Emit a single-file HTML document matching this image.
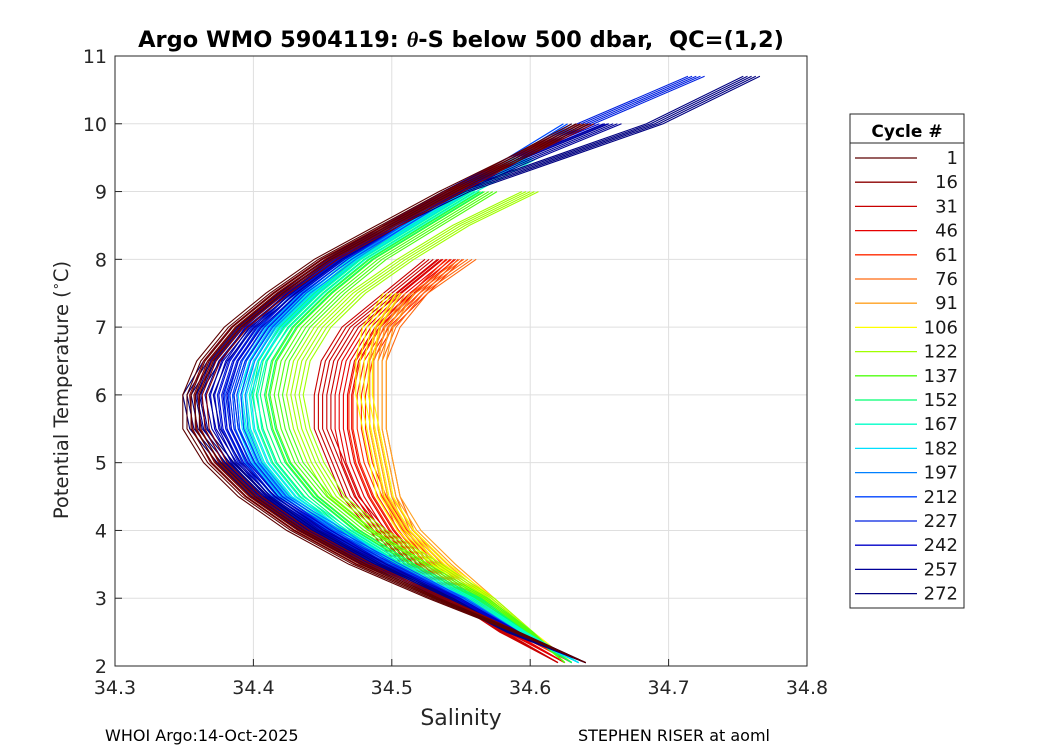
<!DOCTYPE html>
<html><head><meta charset="utf-8"><style>
body{margin:0;background:#fff;width:1050px;height:750px;overflow:hidden;font-family:"Liberation Sans","DejaVu Sans",sans-serif}
</style></head><body>
<svg id="chart" width="1050" height="750" xmlns="http://www.w3.org/2000/svg" font-family="DejaVu Sans, Liberation Sans, sans-serif">
<rect width="1050" height="750" fill="#fff"/>
<text x="461" y="47" text-anchor="middle" font-size="22.5" font-weight="bold" xml:space="preserve">Argo WMO 5904119: <tspan font-style="italic" font-family="Liberation Serif, serif">θ</tspan>-S below 500 dbar,  QC=(1,2)</text>
<g id="grid"></g>
<g id="lines"></g>
<rect x="115" y="56" width="692" height="610" fill="none" stroke="#262626" stroke-width="1"/>
<g id="ticks"></g>
<text x="461" y="725" text-anchor="middle" font-size="22" fill="#262626">Salinity</text>
<text transform="translate(68,390) rotate(-90)" text-anchor="middle" font-size="19.5" fill="#262626">Potential Temperature (<tspan dy="-8" font-size="13">∘</tspan><tspan dy="8">C)</tspan></text>
<text x="105" y="741" font-size="16">WHOI Argo:14-Oct-2025</text>
<text x="578" y="741" font-size="16">STEPHEN RISER at aoml</text>
<g id="legend">
<rect x="850" y="114" width="114" height="494" fill="#fff" stroke="#262626"/>
<line x1="850" y1="143" x2="964" y2="143" stroke="#262626"/>
<text x="907" y="137" text-anchor="middle" font-size="17" font-weight="bold">Cycle #</text>
</g>
</svg>
<script>
const cycles=[1,16,31,46,61,76,91,106,122,137,152,167,182,197,212,227,242,257,272];
const colors=["#5c0000","#8c0000","#c80000","#e60000","#ff2a00","#ff6a10","#ffa020","#ffff00","#a0ff00","#50ff10","#00ff70","#00ffc8","#00e0ff","#0080ff","#0045ff","#0020e0","#0000c8","#000098","#000080"];
const tempGrid=[2.05,2.5,3,3.5,4,4.5,5,5.5,6,6.5,7,7.5,8,8.5,9,9.5,10,10.7];
const n=null;
const sal1=[34.64,34.59,34.53,34.475,34.43,34.395,34.37,34.355,34.355,34.365,34.385,34.415,34.45,34.495,34.54,34.59,34.636,n];
const sal16=[34.64,34.59,34.535,34.48,34.435,34.40,34.375,34.362,34.36,34.37,34.39,34.42,34.455,34.50,34.545,34.59,34.64,n];
const sal31=[34.62,34.58,34.545,34.51,34.49,34.47,34.46,34.45,34.45,34.455,34.47,34.50,34.53,n,n,n,n,n];
const sal46=[34.625,34.585,34.55,34.515,34.495,34.48,34.47,34.465,34.465,34.47,34.485,34.51,34.54,n,n,n,n,n];
const sal61=[34.63,34.59,34.555,34.525,34.505,34.49,34.48,34.475,34.475,34.48,34.495,34.52,34.545,n,n,n,n,n];
const sal76=[34.63,34.595,34.56,34.53,34.51,34.50,34.495,34.49,34.49,34.49,34.50,34.52,34.555,n,n,n,n,n];
const sal91=[34.63,34.60,34.57,34.54,34.515,34.50,34.495,34.49,34.49,34.49,34.495,34.51,n,n,n,n,n,n];
const sal106=[34.63,34.60,34.57,34.535,34.51,34.495,34.49,34.485,34.48,34.48,34.485,34.50,n,n,n,n,n,n];
const sal122=[34.625,34.60,34.57,34.53,34.49,34.46,34.445,34.435,34.43,34.435,34.45,34.475,34.51,34.55,34.60,n,n,n];
const sal137=[34.625,34.60,34.565,34.52,34.48,34.45,34.43,34.42,34.415,34.42,34.435,34.46,34.49,34.53,34.57,n,n,n];
const sal152=[34.63,34.595,34.56,34.51,34.47,34.44,34.42,34.41,34.405,34.41,34.425,34.45,34.48,34.52,34.56,n,n,n];
const sal167=[34.635,34.595,34.555,34.505,34.465,34.43,34.41,34.40,34.397,34.403,34.42,34.445,34.475,34.515,34.555,34.60,n,n];
const sal182=[34.635,34.59,34.55,34.50,34.46,34.425,34.405,34.395,34.392,34.40,34.415,34.44,34.47,34.51,34.55,34.595,n,n];
const sal197=[34.64,34.59,34.55,34.495,34.46,34.42,34.40,34.39,34.388,34.395,34.41,34.435,34.468,34.505,34.545,34.59,34.63,n];
const sal212=[34.64,34.59,34.548,34.50,34.455,34.418,34.398,34.387,34.385,34.392,34.408,34.432,34.465,34.505,34.545,34.59,34.63,n];
const sal227=[34.64,34.59,34.545,34.495,34.45,34.415,34.395,34.383,34.38,34.388,34.405,34.43,34.462,34.50,34.543,34.59,34.64,34.72];
const sal242=[34.64,34.59,34.545,34.49,34.45,34.412,34.39,34.378,34.375,34.383,34.40,34.427,34.46,34.50,34.543,34.59,34.65,n];
const sal257=[34.64,34.585,34.54,34.49,34.445,34.41,34.385,34.37,34.365,34.375,34.395,34.425,34.458,34.50,34.545,34.60,34.66,n];
const sal272=[34.64,34.585,34.54,34.485,34.44,34.405,34.38,34.36,34.355,34.37,34.39,34.42,34.455,34.50,34.55,34.62,34.69,34.76];
const series=[sal1,sal16,sal31,sal46,sal61,sal76,sal91,sal106,sal122,sal137,sal152,sal167,sal182,sal197,sal212,sal227,sal242,sal257,sal272];
const drawOrder=[2,3,4,5,6,7,8,9,10,11,12,13,14,15,16,17,18,1,0];
const xTicks=[34.3,34.4,34.5,34.6,34.7,34.8];
const yTicks=[2,3,4,5,6,7,8,9,10,11];
const X0=115,X1=807,Y0=666,Y1=56;
const xs=v=>X0+(v-34.3)/0.5*(X1-X0);
const ys=v=>Y0-(v-2)/9*(Y0-Y1);
const NS="http://www.w3.org/2000/svg";
const mk=(t,a,p)=>{const e=document.createElementNS(NS,t);for(const k in a)e.setAttribute(k,a[k]);p.appendChild(e);return e;};
const grid=document.getElementById('grid'),ticks=document.getElementById('ticks'),lines=document.getElementById('lines'),leg=document.getElementById('legend');
xTicks.forEach(v=>{const x=xs(v);
 const g=mk('line',{x1:x,x2:x,y1:Y1,y2:Y0,stroke:'#dfdfdf'},grid);
 
 
 mk('line',{x1:x,x2:x,y1:Y0,y2:Y0-7,stroke:'#262626'},ticks);
 const t=mk('text',{x:x,y:Y0+28,'text-anchor':'middle','font-size':19,fill:'#262626'},ticks);t.textContent=v.toFixed(1);
 
 });
yTicks.forEach(v=>{const y=ys(v);
 const g=mk('line',{x1:X0,x2:X1,y1:y,y2:y,stroke:'#dfdfdf'},grid);
 
 
 mk('line',{x1:X0,x2:X0+7,y1:y,y2:y,stroke:'#262626'},ticks);
 const t=mk('text',{x:X0-8,y:y+7,'text-anchor':'end','font-size':19,fill:'#262626'},ticks);t.textContent=v;
 
 });
const spread=[-0.006,-0.003,0,0.003,0.006];
drawOrder.forEach(i=>{
 const s=series[i];
 spread.forEach(o=>{
  let d='';s.forEach((v,k)=>{if(v===null)return;const sv=k===0?v:v+o*(k/3>1?1:k/3);d+=(d?'L':'M')+xs(sv).toFixed(1)+','+ys(tempGrid[k]).toFixed(1);});
  const p=mk('path',{d:d,fill:'none',stroke:colors[i],'stroke-width':1.1},lines);
  
  
 });
});
cycles.forEach((c,i)=>{
 const y=158+i*24.2;
 const l=mk('line',{x1:855,x2:917,y1:y,y2:y,stroke:colors[i],'stroke-width':1.3},leg);
 
 
 const t=mk('text',{x:958,y:y+6,'text-anchor':'end','font-size':18,fill:'#1a1a1a'},leg);t.textContent=c;
 
 
});
</script>
</body></html>
